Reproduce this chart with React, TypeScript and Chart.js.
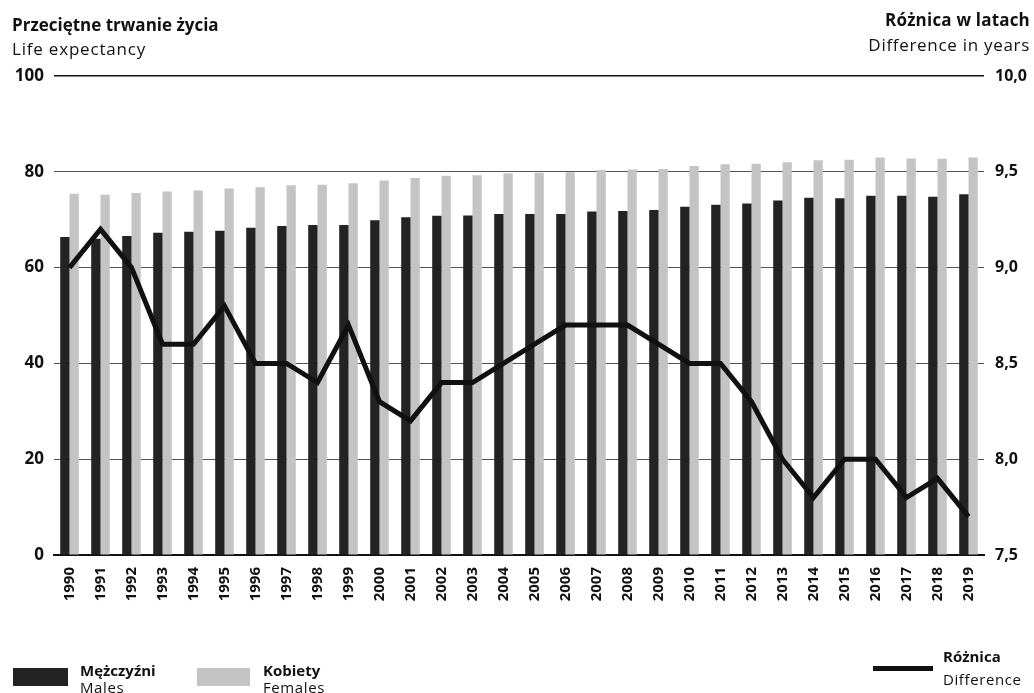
import React, { useEffect, useRef } from "react";
import { Chart, registerables } from "chart.js";

Chart.register(...registerables);

const years = [
  "1990", "1991", "1992", "1993", "1994", "1995", "1996", "1997", "1998", "1999",
  "2000", "2001", "2002", "2003", "2004", "2005", "2006", "2007", "2008", "2009",
  "2010", "2011", "2012", "2013", "2014", "2015", "2016", "2017", "2018", "2019",
];

const males = [
  66.4, 66.0, 66.6, 67.3, 67.5, 67.7, 68.3, 68.7, 68.9, 68.9,
  69.9, 70.5, 70.8, 70.9, 71.2, 71.2, 71.2, 71.7, 71.8, 72.0,
  72.7, 73.1, 73.4, 74.0, 74.6, 74.5, 75.0, 75.0, 74.8, 75.3,
];

const females = [
  75.4, 75.2, 75.6, 75.9, 76.1, 76.5, 76.8, 77.2, 77.3, 77.6,
  78.2, 78.7, 79.2, 79.3, 79.7, 79.8, 79.9, 80.4, 80.5, 80.6,
  81.2, 81.6, 81.7, 82.0, 82.4, 82.5, 83.0, 82.8, 82.7, 83.0,
];

const difference = [
  9.0, 9.2, 9.0, 8.6, 8.6, 8.8, 8.5, 8.5, 8.4, 8.7,
  8.3, 8.2, 8.4, 8.4, 8.5, 8.6, 8.7, 8.7, 8.7, 8.6,
  8.5, 8.5, 8.3, 8.0, 7.8, 8.0, 8.0, 7.8, 7.9, 7.7,
];

const FONT = "'Open Sans', 'Noto Sans', sans-serif";
const MALE = "#232323";
const FEMALE = "#c4c4c4";
const INK = "#111111";

export default function App() {
  const ref = useRef<HTMLCanvasElement>(null);

  useEffect(() => {
    document.body.style.margin = "0";
    const chart = new Chart(ref.current!, {
      type: "bar",
      data: {
        labels: years,
        datasets: [
          {
            type: "line",
            label: "Różnica",
            data: difference,
            yAxisID: "y1",
            borderColor: INK,
            borderWidth: 5,
            pointRadius: 0,
            tension: 0,
            order: 0,
          } as any,
          {
            label: "Mężczyźni",
            data: males,
            yAxisID: "y",
            backgroundColor: MALE,
            categoryPercentage: 0.6,
            barPercentage: 1.0,
            order: 1,
          },
          {
            label: "Kobiety",
            data: females,
            yAxisID: "y",
            backgroundColor: FEMALE,
            categoryPercentage: 0.6,
            barPercentage: 1.0,
            order: 1,
          },
        ],
      },
      options: {
        animation: false,
        responsive: false,
        maintainAspectRatio: false,
        layout: { padding: { top: 76, left: 0, right: 0, bottom: 0 } },
        plugins: {
          legend: { display: false },
          tooltip: { enabled: false },
        },
        scales: {
          x: {
            grid: { display: false },
            border: { color: INK, width: 2 },
            ticks: {
              minRotation: 90,
              maxRotation: 90,
              color: INK,
              padding: 4,
              font: { family: FONT, size: 15, weight: "bold" },
            },
            afterFit: (s: any) => {
              s.height = 138;
            },
          },
          y: {
            position: "left",
            min: 0,
            max: 100,
            ticks: {
              stepSize: 20,
              color: INK,
              padding: 10,
              font: { family: FONT, size: 17, weight: "bold" },
            },
            grid: {
              drawTicks: false,
              color: (ctx: any) =>
                ctx.tick && ctx.tick.value === 100
                  ? "#111"
                  : ctx.tick && ctx.tick.value === 0
                  ? "rgba(0,0,0,0)"
                  : "#555",
              lineWidth: (ctx: any) => (ctx.tick && ctx.tick.value === 100 ? 1.6 : 1),
            },
            border: { display: false },
            afterFit: (s: any) => {
              s.width = 54;
            },
          },
          y1: {
            position: "right",
            min: 7.5,
            max: 10,
            ticks: {
              stepSize: 0.5,
              color: INK,
              padding: 11,
              font: { family: FONT, size: 16, weight: "bold" },
              callback: (v: any) => Number(v).toFixed(1).replace(".", ","),
            },
            grid: { display: false, drawTicks: false },
            border: { display: false },
            afterFit: (s: any) => {
              s.width = 50;
            },
          },
        },
      },
    });
    return () => chart.destroy();
  }, []);

  const txt = (
    left: number | undefined,
    right: number | undefined,
    top: number,
    text: string,
    bold: boolean,
    size: number,
    spacing: number
  ) => (
    <div
      style={{
        position: "absolute",
        left,
        right,
        top,
        height: size + 3,
        lineHeight: `${size + 3}px`,
        fontFamily: FONT,
        fontSize: size,
        fontWeight: bold ? 700 : 400,
        letterSpacing: `${spacing}px`,
        color: INK,
        whiteSpace: "nowrap",
      }}
    >
      {text}
    </div>
  );

  return (
    <div
      style={{
        position: "absolute",
        left: 0,
        top: 0,
        width: 1034,
        height: 693,
        background: "#fff",
        overflow: "hidden",
      }}
    >
      <canvas ref={ref} width={1034} height={693} style={{ position: "absolute", left: 0, top: 0 }} />
      {txt(12, undefined, 15, "Przeciętne trwanie życia", true, 17, 0)}
      {txt(12, undefined, 39, "Life expectancy", false, 17, 0.8)}
      {txt(undefined, 4, 10, "Różnica w latach", true, 17, 0.2)}
      {txt(undefined, 4, 35, "Difference in years", false, 17, 0.7)}

      <div style={{ position: "absolute", left: 13, top: 668, width: 55, height: 18, background: MALE }} />
      {txt(80, undefined, 661, "Mężczyźni", true, 15, 0)}
      {txt(80, undefined, 678, "Males", false, 15, 0.6)}

      <div style={{ position: "absolute", left: 197, top: 668, width: 53, height: 18, background: FEMALE }} />
      {txt(263, undefined, 661, "Kobiety", true, 15, 0)}
      {txt(263, undefined, 678, "Females", false, 15, 0.6)}

      <div style={{ position: "absolute", left: 873, top: 666, width: 60, height: 5, background: INK }} />
      {txt(943, undefined, 647, "Różnica", true, 15, 0)}
      {txt(943, undefined, 670, "Difference", false, 15, 0.6)}
    </div>
  );
}
